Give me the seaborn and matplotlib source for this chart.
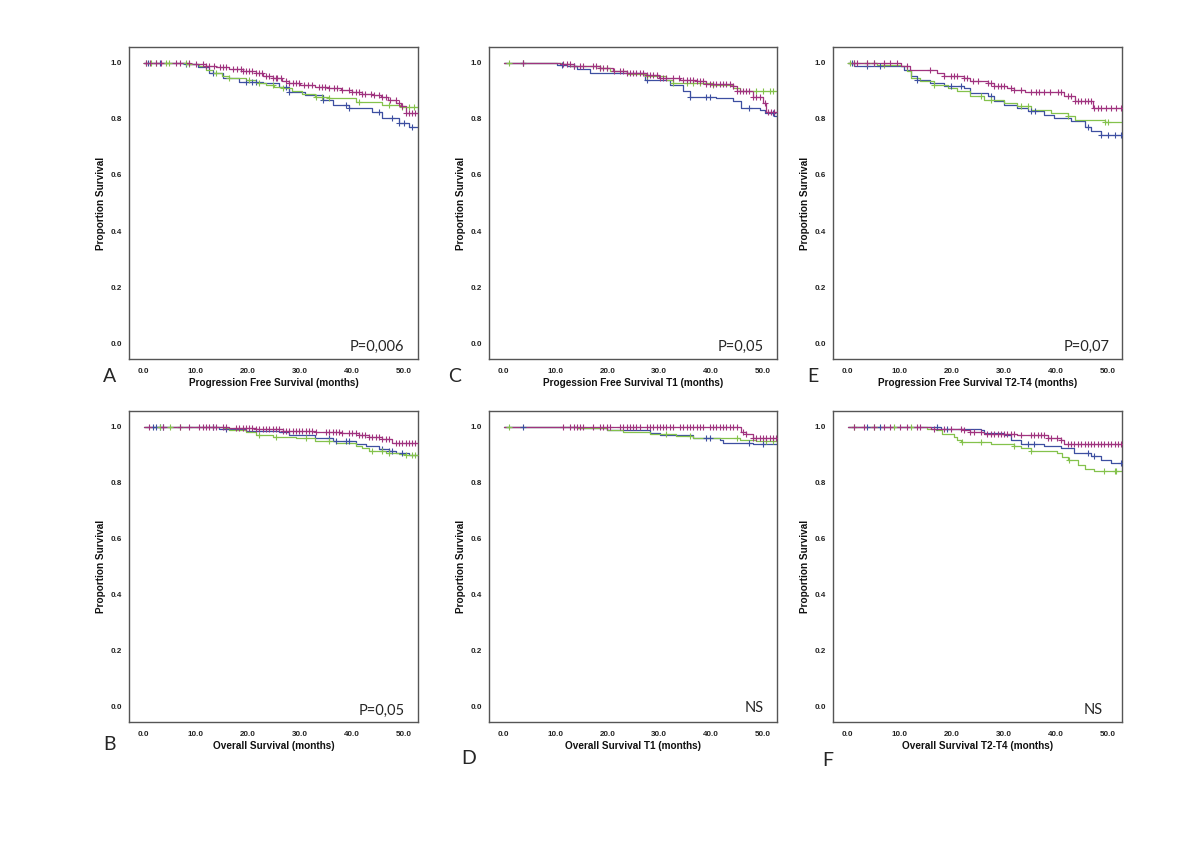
import numpy as np
import pandas as pd
import matplotlib
matplotlib.use("Agg")
import matplotlib.pyplot as plt
import seaborn as sns

# Kaplan-Meier curves.
# *_t = time of each step (months), *_s = survival after that step,
# *_c = censoring times (tick marks on the curve)

# A: progression free survival
a_blue_t = [0, 8, 10.5, 12.6, 15.2, 18.4, 22.9, 26, 28, 31, 34.4, 36.3, 39.5, 43.9, 45.8, 49, 51]
a_blue_s = [1.0, 0.995, 0.985, 0.963, 0.945, 0.933, 0.927, 0.915, 0.898, 0.886, 0.868, 0.85, 0.838, 0.826, 0.802, 0.785, 0.773]
a_blue_c = [0.8, 3.1, 8.2, 13.3, 19.7, 20.9, 21.6, 27.3, 28, 34.4, 38.8, 39.5, 45.2, 47.7, 49, 50, 51.6]
a_green_t = [0, 8.8, 10.7, 12, 13.3, 15, 16.5, 19.7, 21.5, 23.5, 25, 26.7, 28.5, 30.5, 33, 35.6, 40.7, 45.8, 49.7]
a_green_s = [1.0, 0.995, 0.99, 0.975, 0.963, 0.952, 0.945, 0.94, 0.93, 0.92, 0.915, 0.91, 0.9, 0.89, 0.88, 0.874, 0.862, 0.85, 0.844]
a_green_c = [0.5, 1.5, 2.4, 4.3, 4.9, 8.2, 8.8, 13.9, 16.5, 20.3, 22.2, 24.8, 26.7, 33.1, 34.3, 35.6, 41.4, 47.1, 49.7, 51, 51.9]
a_mag_t = [0, 9, 12, 14, 16.5, 19, 21.6, 23, 24.8, 26.5, 28, 30, 33, 35.5, 38, 40, 42, 44, 45.5, 47, 48.5, 49.5, 50.3]
a_mag_s = [1.0, 0.995, 0.99, 0.985, 0.98, 0.972, 0.963, 0.955, 0.945, 0.935, 0.927, 0.922, 0.915, 0.91, 0.904, 0.897, 0.89, 0.884, 0.878, 0.868, 0.857, 0.845, 0.822]
a_mag_c = [0.5, 1.2, 2.4, 3.4, 6.3, 6.9, 8.8, 10.1, 11.4, 12, 12.6, 13.6, 14.6, 15.2, 15.8, 17.1, 18, 18.7, 19,
           19.6, 20.3, 20.9, 21.6, 22.2, 22.8, 23.5, 24.1, 24.8, 25.4, 25.7, 26.4, 27.3, 28, 28.6, 29.2, 29.9,
           30.8, 31.5, 32.4, 33.7, 34.3, 34.9, 35.6, 36.6, 37.2, 38.2, 39.5, 40.1, 40.7, 41.4, 42, 42.6, 43.6,
           44.3, 45.2, 45.8, 46.5, 47.4, 48.4, 49, 49.7, 50.3, 50.9, 51.6, 52.2]

# B: overall survival
b_blue_t = [0, 14.5, 19.7, 26, 28, 33, 36.3, 40.7, 42.7, 45.2, 47.1, 48.4, 51]
b_blue_s = [1.0, 0.992, 0.987, 0.98, 0.971, 0.96, 0.948, 0.939, 0.93, 0.92, 0.912, 0.906, 0.898]
b_blue_c = [1.8, 2.4, 3.1, 3.7, 13.3, 15.8, 35.6, 36.9, 38.8, 39.5, 45.8, 47.1, 47.8, 49.7]
b_green_t = [0, 15.2, 16.5, 19.7, 21.6, 24.8, 29.2, 33, 36.9, 40.7, 42, 43.3, 46.5, 49, 50.3]
b_green_s = [1.0, 0.995, 0.989, 0.983, 0.971, 0.965, 0.96, 0.951, 0.942, 0.932, 0.924, 0.915, 0.908, 0.904, 0.9]
b_green_c = [3.1, 5, 6.9, 22.2, 25.4, 31.2, 35.6, 43.9, 45.8, 47.1, 50.3, 51.6, 52.2]
b_mag_t = [0, 16.5, 21.6, 26.7, 33, 38.2, 41.4, 43.3, 45.8, 47.8]
b_mag_s = [1.0, 0.995, 0.992, 0.986, 0.983, 0.977, 0.971, 0.965, 0.956, 0.944]
b_mag_c = [1.1, 3.7, 6.9, 8.8, 10.7, 11.4, 12, 12.6, 13.3, 13.9, 15.2, 15.8, 17.8, 18.4, 19, 19.7, 20.3, 20.9,
           21.6, 22.2, 22.9, 23.5, 24.1, 24.8, 25.4, 26, 26.7, 27.3, 28, 28.6, 29.2, 29.9, 30.5, 31.2, 31.8,
           32.4, 33.1, 35, 35.6, 36.3, 36.9, 37.5, 38.2, 39.5, 40.1, 40.7, 41.4, 42, 42.6, 43.3, 43.9, 44.6,
           45.2, 45.8, 46.5, 47.1, 48.4, 49, 49.7, 50.3, 50.9, 51.6, 52.2]

# C: progression free survival T1
c_blue_t = [0, 10.3, 12.2, 14.1, 16.7, 27.2, 32, 34.6, 35.9, 41, 44.2, 45.8, 49.4, 50.3, 52.2]
c_blue_s = [1.0, 0.994, 0.99, 0.979, 0.964, 0.94, 0.923, 0.9, 0.88, 0.875, 0.863, 0.84, 0.833, 0.82, 0.812]
c_blue_c = [3.8, 11.2, 13.5, 27.6, 35.9, 39.1, 39.7, 47.4, 51.9]
c_green_t = [0, 11, 12.8, 18.6, 20.5, 23.7, 27.6, 31.4, 32.7, 40.4, 44.2, 45.5]
c_green_s = [1.0, 0.995, 0.988, 0.982, 0.97, 0.96, 0.952, 0.94, 0.93, 0.923, 0.91, 0.9]
c_green_c = [1, 3.8, 18.6, 19.9, 27.6, 32.7, 35.3, 36.5, 37.8, 40.4, 48.7, 50, 51.3, 51.9]
c_mag_t = [0, 10.9, 13.5, 18.6, 21, 23.7, 27.6, 30, 34, 37.2, 39, 44.2, 44.9, 48, 50, 50.6]
c_mag_s = [1.0, 0.995, 0.988, 0.982, 0.97, 0.964, 0.958, 0.946, 0.94, 0.935, 0.926, 0.917, 0.9, 0.88, 0.857, 0.826]
c_mag_c = [3.8, 11.5, 12.2, 12.8, 13.5, 14.7, 15.4, 17.3, 17.9, 18.6, 19.2, 19.9, 21.2, 22.4, 23.1, 23.7, 24.4,
           25, 25.6, 26.3, 26.9, 27.6, 28.2, 28.8, 29.5, 30.1, 30.8, 31.4, 32.7, 33.9, 34.6, 35.3, 35.9, 36.5,
           37.2, 37.8, 38.5, 39.1, 39.7, 40.4, 41, 41.7, 42.3, 42.9, 43.6, 44.2, 44.9, 45.5, 46.2, 46.8, 47.4,
           48.1, 48.7, 49.4, 50.3, 51, 51.6, 52.2]

# D: overall survival T1
d_blue_t = [0, 14.1, 19.9, 28.2, 30.1, 36.5, 41.7, 42.3, 48]
d_blue_s = [1.0, 0.995, 0.989, 0.977, 0.971, 0.96, 0.954, 0.944, 0.939]
d_blue_c = [3.8, 39.1, 39.7, 47.4, 50]
d_green_t = [0, 14.1, 19.9, 23, 28.2, 33.3, 36.5, 45.5, 48.7]
d_green_s = [1.0, 0.995, 0.989, 0.983, 0.975, 0.968, 0.96, 0.954, 0.95]
d_green_c = [1, 31.4, 35.9, 44.9, 50.6, 51.9]
d_mag_t = [0, 20, 45.7, 46.8, 48]
d_mag_s = [1.0, 0.998, 0.983, 0.975, 0.96]
d_mag_c = [11.5, 12.8, 13.5, 14.1, 14.7, 15.4, 17.3, 18.6, 19.2, 19.9, 20.5, 22.4, 23.1, 23.7, 24.4, 25, 25.6,
           26.3, 27.6, 28.2, 28.8, 29.5, 30.1, 30.8, 31.4, 32.1, 32.7, 34, 34.6, 35.3, 35.9, 36.5, 37.2, 37.8,
           38.5, 39.7, 40.4, 41, 41.7, 42.3, 42.9, 43.6, 44.2, 44.9, 46.2, 46.8, 48.1, 48.7, 49.4, 50, 50.6,
           51.3, 51.9, 52.5]

# E: progression free survival T2-T4
e_blue_t = [0, 1.2, 8.9, 10.8, 12.1, 13.4, 15.9, 18.5, 22.4, 23.6, 26.9, 28.1, 30, 32.6, 34.6, 37.8, 39.7, 42.9, 45.5, 46.8, 48.7]
e_blue_s = [1.0, 0.99, 0.988, 0.976, 0.952, 0.94, 0.929, 0.917, 0.911, 0.893, 0.881, 0.863, 0.851, 0.839, 0.827, 0.815, 0.804, 0.792, 0.771, 0.756, 0.744]
e_blue_c = [0.8, 3.7, 6.3, 13.4, 19.8, 21.7, 27.5, 35.2, 35.9, 46.1, 48.7, 50, 51.3, 52.5]
e_green_t = [0, 5.7, 10.2, 11.4, 12.1, 14, 16.6, 19.2, 21.1, 23.6, 26.2, 30, 32.6, 35.2, 39, 42.3, 43.6, 49.4]
e_green_s = [1.0, 0.994, 0.988, 0.97, 0.946, 0.935, 0.923, 0.911, 0.9, 0.881, 0.869, 0.857, 0.845, 0.833, 0.821, 0.81, 0.798, 0.789]
e_green_c = [0.5, 1.2, 3.7, 5, 6.9, 16.6, 25.6, 27.5, 33.3, 34.6, 42.3, 49.4, 50]
e_mag_t = [0, 10.2, 12, 17.2, 18.5, 22.4, 23.6, 26.9, 28.1, 30.7, 32, 34, 41.6, 43.6, 47.1]
e_mag_s = [1.0, 0.99, 0.976, 0.964, 0.952, 0.946, 0.935, 0.929, 0.919, 0.911, 0.905, 0.896, 0.881, 0.863, 0.839]
e_mag_c = [1.2, 1.8, 3.7, 5, 6.9, 8.2, 9.5, 11.4, 15.9, 18.5, 19.8, 20.4, 21.1, 22.4, 23, 24, 25, 26.9, 27.5,
           28.1, 28.8, 29.4, 30.1, 31.4, 32, 33.3, 35.2, 36.2, 36.8, 37.8, 38.8, 40.4, 41, 42.3, 42.9, 43.6,
           44.2, 44.9, 45.5, 46.1, 46.8, 47.4, 48.1, 48.7, 49.7, 50.6, 51.6, 52.5]

# F: overall survival T2-T4
f_blue_t = [0, 15, 17.9, 25.6, 26.2, 30, 31.3, 33.3, 37.8, 41, 43.5, 46.8, 48.7, 50.6]
f_blue_s = [1.0, 0.998, 0.994, 0.988, 0.979, 0.97, 0.952, 0.94, 0.931, 0.923, 0.905, 0.895, 0.881, 0.869]
f_blue_c = [3.7, 6.3, 17.2, 19.1, 34.6, 35.8, 46.1, 47.4, 52.5]
f_green_t = [0, 12, 15.3, 17, 18.2, 20.4, 21.1, 21.7, 27.5, 32, 33.3, 35.2, 40.3, 41.2, 42.3, 44.2, 45.5, 47.4]
f_green_s = [1.0, 0.998, 0.994, 0.988, 0.976, 0.964, 0.952, 0.946, 0.938, 0.932, 0.923, 0.914, 0.905, 0.893, 0.881, 0.863, 0.851, 0.843]
f_green_c = [1.2, 5, 8.9, 12.1, 22, 25.6, 32, 35.2, 42.6, 49.3, 51.3, 51.6]
f_mag_t = [0, 16, 22.4, 23.6, 26.2, 32.6, 38.4, 41, 41.6]
f_mag_s = [1.0, 0.994, 0.988, 0.982, 0.976, 0.97, 0.962, 0.952, 0.94]
f_mag_c = [1.2, 3.1, 5, 6.9, 8.2, 10.1, 11.4, 13.4, 14, 16.6, 18.5, 19.8, 21.7, 22.4, 23.6, 24.3, 25.6, 26.8,
           27.5, 28.1, 28.8, 29.4, 30.1, 30.7, 31.3, 32, 33.3, 35.2, 35.8, 36.5, 37.1, 37.8, 38.4, 39, 40.3,
           41, 42.3, 42.9, 43.5, 44.2, 44.8, 45.5, 46.1, 46.8, 47.4, 48, 48.7, 49.3, 50, 50.6, 51.3, 51.9, 52.5]

x_labels = {
    "A": "Progression Free Survival (months)",
    "B": "Overall Survival (months)",
    "C": "Progession Free Survival T1 (months)",
    "D": "Overall Survival T1 (months)",
    "E": "Progression Free Survival T2-T4 (months)",
    "F": "Overall Survival T2-T4 (months)",
}
p_texts = {"A": "P=0,006", "B": "P=0,05", "C": "P=0,05", "D": "NS", "E": "P=0,07", "F": "NS"}

BLUE = "#3d4fa1"
GREEN = "#84c24c"
MAGENTA = "#a0337f"
XMAX = 52.7

sns.set_style("white")
plt.rcParams["font.family"] = ["Liberation Sans", "DejaVu Sans"]

fig = plt.figure(figsize=(12, 8.48), dpi=100)

# axes boxes in pixels: left, top, right, bottom
boxes = {
    "A": (129, 47, 418, 359), "C": (489, 47, 777, 359), "E": (833, 47, 1122, 359),
    "B": (129, 411, 418, 722), "D": (489, 411, 777, 722), "F": (833, 411, 1122, 722),
}
letter_pos = {"A": (110, 377), "C": (455, 377), "E": (813, 377),
              "B": (110, 745), "D": (469, 759), "F": (828, 760)}
ptext_pos = {"A": (404, 347), "C": (764, 347), "E": (1110, 347),
             "B": (405, 711), "D": (764, 708), "F": (1103, 710)}

curves = {
    "A": [(a_blue_t, a_blue_s, a_blue_c, BLUE), (a_green_t, a_green_s, a_green_c, GREEN), (a_mag_t, a_mag_s, a_mag_c, MAGENTA)],
    "B": [(b_blue_t, b_blue_s, b_blue_c, BLUE), (b_green_t, b_green_s, b_green_c, GREEN), (b_mag_t, b_mag_s, b_mag_c, MAGENTA)],
    "C": [(c_blue_t, c_blue_s, c_blue_c, BLUE), (c_green_t, c_green_s, c_green_c, GREEN), (c_mag_t, c_mag_s, c_mag_c, MAGENTA)],
    "D": [(d_blue_t, d_blue_s, d_blue_c, BLUE), (d_green_t, d_green_s, d_green_c, GREEN), (d_mag_t, d_mag_s, d_mag_c, MAGENTA)],
    "E": [(e_blue_t, e_blue_s, e_blue_c, BLUE), (e_green_t, e_green_s, e_green_c, GREEN), (e_mag_t, e_mag_s, e_mag_c, MAGENTA)],
    "F": [(f_blue_t, f_blue_s, f_blue_c, BLUE), (f_green_t, f_green_s, f_green_c, GREEN), (f_mag_t, f_mag_s, f_mag_c, MAGENTA)],
}

W, H = 1200, 848

for key, (l, t, r, b) in boxes.items():
    ax = fig.add_axes([l / W, 1 - b / H, (r - l) / W, (b - t) / H])

    for times, surv, cens, col in curves[key]:
        df = pd.DataFrame({"time": list(times) + [XMAX], "surv": list(surv) + [surv[-1]]})
        sns.lineplot(data=df, x="time", y="surv", color=col, lw=0.9, drawstyle="steps-post",
                     estimator=None, sort=False, ax=ax)
        idx = np.searchsorted(times, cens, side="right") - 1
        cy = np.asarray(surv)[idx]
        sns.scatterplot(x=cens, y=cy, marker="+", s=22, color=col, linewidth=0.8, ax=ax, zorder=3)

    ax.set_xlim(-2.8, XMAX)
    ax.set_ylim(-0.057, 1.057)
    ax.set_xticks([0, 10, 20, 30, 40, 50])
    ax.set_xticklabels(["0.0", "10.0", "20.0", "30.0", "40.0", "50.0"])
    ax.set_yticks([0, 0.2, 0.4, 0.6, 0.8, 1.0])
    ax.set_yticklabels(["0.0", "0.2", "0.4", "0.6", "0.8", "1.0"])
    ax.tick_params(axis="both", direction="out", labelsize=5.8, colors="#222222", width=0.8)
    ax.tick_params(axis="y", length=4, pad=1)
    ax.tick_params(axis="x", length=2.5, pad=4)
    for lab in ax.get_xticklabels() + ax.get_yticklabels():
        lab.set_fontweight("bold")
    for sp in ax.spines.values():
        sp.set_visible(True)
        sp.set_color("#555555")
        sp.set_linewidth(1.0)

    ax.set_xlabel(x_labels[key], fontsize=7.2, fontweight="bold", color="#111111")
    ax.set_ylabel("Proportion Survival", fontsize=7.2, fontweight="bold", color="#111111")
    # label tops sit ~19 px under the axis, y label ~23 px left of it
    ax.xaxis.set_label_coords(0.5, -19 / (b - t))
    ax.yaxis.set_label_coords(-23 / (r - l), 0.5)

    lx, ly = letter_pos[key]
    fig.text(lx / W, 1 - ly / H, key, fontsize=14, family="Lato", ha="center", va="center")
    px, py = ptext_pos[key]
    fig.text(px / W, 1 - py / H, p_texts[key], fontsize=10.5, family="Lato", ha="right", va="center")

fig.savefig("out.png", dpi=100)
